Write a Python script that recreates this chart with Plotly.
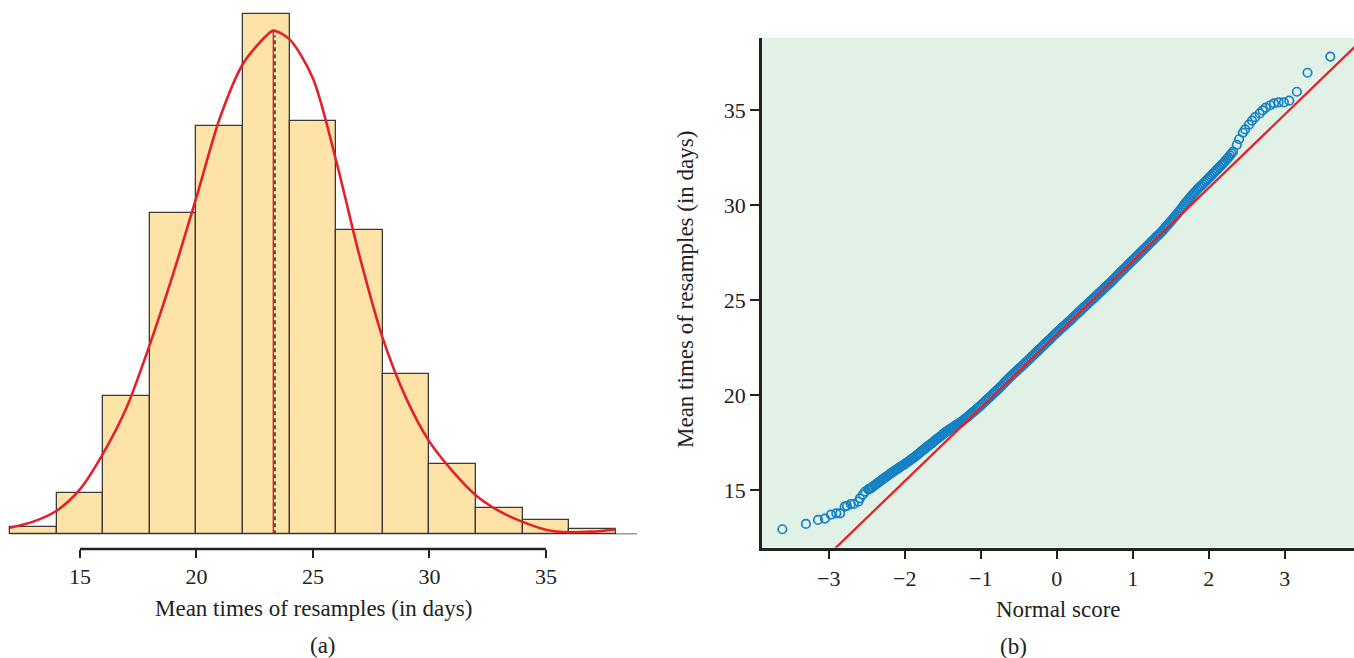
import plotly.graph_objects as go

# ---------------- data: (a) histogram ----------------
bin_edges = [12, 14, 16, 18, 20, 22, 24, 26, 28, 30, 32, 34, 36, 38]
bin_counts = [3, 17, 57, 132, 168, 214, 170, 125, 66, 29, 11, 6, 2]

curve_x = [12, 13, 14, 15, 16, 17, 18, 19, 20, 21, 22, 23, 23.3, 24, 25, 26, 27, 28,
           29, 30, 31, 32, 33, 34, 35, 36, 37, 38]
curve_y = [2.7, 5.2, 9.7, 18.5, 33.3, 52, 78, 107, 138.5, 171, 193.5, 205, 207.1, 203.5,
           187.5, 153.5, 114.5, 80.6, 56, 38.1, 25.9, 16.0, 9.5, 5.1, 1.9, 0.8, 1.1, 2.0]
curve_mean = 23.30
sample_mean = 23.37
hist_ticks = [15, 20, 25, 30, 35]

# ---------------- data: (b) normal quantile plot ----------------
qq_x = [
    -3.61, -3.30, -3.14, -3.05, -2.97, -2.90, -2.85, -2.79, -2.76, -2.71, -2.67,
    -2.61, -2.59, -2.55, -2.52,
    -2.48, -2.46, -2.44, -2.42, -2.40, -2.38, -2.36, -2.34, -2.32, -2.30,
    -2.28, -2.26, -2.24, -2.22, -2.20, -2.18, -2.16, -2.14, -2.12, -2.10,
    -2.08, -2.06, -2.04, -2.02, -2.00, -1.98, -1.96, -1.94, -1.92, -1.90,
    -1.88, -1.86, -1.84, -1.82, -1.80, -1.78, -1.76, -1.74, -1.72, -1.70,
    -1.68, -1.66, -1.64, -1.62, -1.60, -1.58, -1.56, -1.54, -1.52, -1.50,
    -1.48, -1.46, -1.44, -1.42, -1.40, -1.38, -1.36, -1.34, -1.32, -1.30,
    -1.28, -1.26, -1.24, -1.22, -1.20, -1.18, -1.16, -1.14, -1.12, -1.10,
    -1.08, -1.06, -1.04, -1.02, -1.00, -0.98, -0.96, -0.94, -0.92, -0.90,
    -0.88, -0.86, -0.84, -0.82, -0.80, -0.78, -0.76, -0.74, -0.72, -0.70,
    -0.68, -0.66, -0.64, -0.62, -0.60, -0.58, -0.56, -0.54, -0.52, -0.50,
    -0.48, -0.46, -0.44, -0.42, -0.40, -0.38, -0.36, -0.34, -0.32, -0.30,
    -0.28, -0.26, -0.24, -0.22, -0.20, -0.18, -0.16, -0.14, -0.12, -0.10,
    -0.08, -0.06, -0.04, -0.02, 0.00, 0.02, 0.04, 0.06, 0.08, 0.10,
    0.12, 0.14, 0.16, 0.18, 0.20, 0.22, 0.24, 0.26, 0.28, 0.30,
    0.32, 0.34, 0.36, 0.38, 0.40, 0.42, 0.44, 0.46, 0.48, 0.50,
    0.52, 0.54, 0.56, 0.58, 0.60, 0.62, 0.64, 0.66, 0.68, 0.70,
    0.72, 0.74, 0.76, 0.78, 0.80, 0.82, 0.84, 0.86, 0.88, 0.90,
    0.92, 0.94, 0.96, 0.98, 1.00, 1.02, 1.04, 1.06, 1.08, 1.10,
    1.12, 1.14, 1.16, 1.18, 1.20, 1.22, 1.24, 1.26, 1.28, 1.30,
    1.32, 1.34, 1.36, 1.38, 1.40, 1.42, 1.44, 1.46, 1.48, 1.50,
    1.52, 1.54, 1.56, 1.58, 1.60, 1.62, 1.64, 1.66, 1.68, 1.70,
    1.72, 1.74, 1.76, 1.78, 1.80, 1.82, 1.84, 1.86, 1.88, 1.90,
    1.92, 1.94, 1.96, 1.98, 2.00, 2.02, 2.04, 2.06, 2.08, 2.10,
    2.12, 2.14, 2.16, 2.18, 2.20, 2.22, 2.24, 2.26, 2.28, 2.30, 2.32,
    2.37, 2.40, 2.45, 2.48, 2.53, 2.57, 2.61, 2.67, 2.71, 2.75, 2.81, 2.86,
    2.92, 2.99, 3.06, 3.16, 3.30, 3.60]
qq_y = [
    12.93, 13.21, 13.42, 13.49, 13.70, 13.77, 13.77, 14.12, 14.16, 14.26, 14.26,
    14.38, 14.56, 14.75, 14.91,
    15.03, 15.07, 15.10, 15.17, 15.23, 15.29, 15.35, 15.41, 15.47, 15.53,
    15.59, 15.65, 15.70, 15.76, 15.82, 15.88, 15.93, 15.99, 16.05, 16.10,
    16.15, 16.21, 16.26, 16.31, 16.36, 16.42, 16.47, 16.53, 16.59, 16.65,
    16.70, 16.77, 16.83, 16.90, 16.96, 17.03, 17.10, 17.16, 17.22, 17.29,
    17.35, 17.41, 17.47, 17.54, 17.60, 17.67, 17.73, 17.79, 17.85, 17.92,
    17.98, 18.04, 18.10, 18.16, 18.21, 18.26, 18.31, 18.37, 18.42, 18.47,
    18.52, 18.57, 18.63, 18.70, 18.76, 18.82, 18.89, 18.96, 19.03, 19.10,
    19.16, 19.23, 19.30, 19.37, 19.44, 19.52, 19.59, 19.67, 19.74, 19.82,
    19.89, 19.97, 20.04, 20.12, 20.19, 20.27, 20.35, 20.42, 20.50, 20.59,
    20.67, 20.75, 20.83, 20.91, 20.99, 21.07, 21.15, 21.22, 21.29, 21.37,
    21.44, 21.51, 21.58, 21.66, 21.74, 21.81, 21.89, 21.97, 22.05, 22.12,
    22.20, 22.27, 22.35, 22.43, 22.51, 22.58, 22.66, 22.74, 22.82, 22.89,
    22.97, 23.05, 23.13, 23.20, 23.28, 23.35, 23.42, 23.50, 23.57, 23.64,
    23.71, 23.79, 23.86, 23.93, 24.01, 24.09, 24.17, 24.24, 24.32, 24.39,
    24.47, 24.54, 24.62, 24.69, 24.77, 24.84, 24.92, 24.99, 25.07, 25.14,
    25.22, 25.29, 25.37, 25.44, 25.52, 25.59, 25.67, 25.74, 25.82, 25.89,
    25.97, 26.05, 26.13, 26.21, 26.29, 26.37, 26.45, 26.53, 26.61, 26.69,
    26.77, 26.85, 26.93, 27.01, 27.09, 27.16, 27.24, 27.32, 27.40, 27.48,
    27.56, 27.64, 27.72, 27.79, 27.87, 27.96, 28.04, 28.11, 28.19, 28.28,
    28.36, 28.43, 28.51, 28.59, 28.68, 28.77, 28.86, 28.95, 29.04, 29.13,
    29.23, 29.32, 29.41, 29.51, 29.61, 29.71, 29.81, 29.92, 30.02, 30.12,
    30.22, 30.32, 30.41, 30.51, 30.60, 30.68, 30.77, 30.86, 30.94, 31.01,
    31.09, 31.17, 31.25, 31.33, 31.41, 31.49, 31.57, 31.66, 31.74, 31.82,
    31.90, 31.99, 32.07, 32.15, 32.23, 32.32, 32.42, 32.51, 32.61, 32.71, 32.81,
    33.16, 33.46, 33.81, 33.98, 34.23, 34.44, 34.62, 34.82, 34.98, 35.12, 35.25,
    35.35, 35.40, 35.40, 35.49, 35.96, 36.96, 37.81]
ref_intercept = 23.18
ref_slope = 3.86
ref_line_x = [-4.0, 4.0]
qq_xticks = [-3, -2, -1, 0, 1, 2, 3]
qq_yticks = [15, 20, 25, 30, 35]

# ---------------- styling ----------------
FONT = "Liberation Serif"
INK = "#222222"
RED = "#E4202A"
BLUE = "#1380C4"
BAR_FILL = "#FEE3A8"
QQ_BG = "#E1F1E6"
W, H = 1354, 658


def px_x(p):
    return p / W


def px_y(p):
    return 1 - p / H


centers = [(a + b) / 2 for a, b in zip(bin_edges[:-1], bin_edges[1:])]
widths = [b - a for a, b in zip(bin_edges[:-1], bin_edges[1:])]
ref_line_y = [ref_intercept + ref_slope * v for v in ref_line_x]

fig = go.Figure()

fig.add_trace(go.Bar(
    x=centers, y=bin_counts, width=widths,
    marker=dict(color=BAR_FILL, line=dict(color="#3a3a3a", width=1.3)),
    xaxis="x", yaxis="y", showlegend=False, hoverinfo="skip"))

fig.add_trace(go.Scatter(
    x=[sample_mean, sample_mean], y=[0, max(curve_y) - 2], mode="lines",
    line=dict(color="#404040", width=1.7, dash="4px,3px"),
    xaxis="x", yaxis="y", showlegend=False, hoverinfo="skip"))

fig.add_trace(go.Scatter(
    x=[curve_mean, curve_mean], y=[0, max(curve_y)], mode="lines",
    line=dict(color=RED, width=1.4),
    xaxis="x", yaxis="y", showlegend=False, hoverinfo="skip"))

fig.add_trace(go.Scatter(
    x=curve_x, y=curve_y, mode="lines",
    line=dict(color=RED, width=2.6, shape="spline", smoothing=0.8),
    xaxis="x", yaxis="y", showlegend=False, hoverinfo="skip"))

fig.add_trace(go.Scatter(
    x=qq_x, y=qq_y, mode="markers",
    marker=dict(symbol="circle-open", size=8.5, color=BLUE, line=dict(width=1.7, color=BLUE)),
    xaxis="x2", yaxis="y2", showlegend=False, hoverinfo="skip"))

fig.add_trace(go.Scatter(
    x=ref_line_x, y=ref_line_y, mode="lines",
    line=dict(color=RED, width=2.3),
    xaxis="x2", yaxis="y2", showlegend=False, hoverinfo="skip"))

hist_axis_pos = px_y(549)

fig.update_layout(
    width=W, height=H,
    margin=dict(l=0, r=0, t=0, b=0),
    paper_bgcolor="white", plot_bgcolor="rgba(0,0,0,0)",
    font=dict(family=FONT, size=22, color=INK),
    bargap=0,
    xaxis=dict(
        domain=[px_x(8), px_x(637)], range=[11.914, 38.91],
        anchor="free", position=hist_axis_pos,
        showline=False, showgrid=False, zeroline=False,
        ticks="outside", ticklen=8, tickwidth=2, tickcolor=INK,
        tickvals=hist_ticks, ticktext=[str(t) for t in hist_ticks],
        tickfont=dict(family=FONT, size=22, color=INK),
    ),
    yaxis=dict(
        domain=[px_y(534.3), px_y(10)], range=[0, 215.6],
        visible=False, fixedrange=True,
    ),
    xaxis2=dict(
        domain=[px_x(762), 1.0], range=[-3.878, 3.912],
        anchor="y2", showline=True, linewidth=2.6, linecolor=INK,
        showgrid=False, zeroline=False,
        ticks="outside", ticklen=9, tickwidth=2, tickcolor=INK,
        tickvals=qq_xticks,
        tickfont=dict(family=FONT, size=22, color=INK),
    ),
    yaxis2=dict(
        domain=[px_y(547.5), px_y(38)], range=[11.97, 38.79],
        anchor="x2", showline=True, linewidth=2.6, linecolor=INK,
        showgrid=False, zeroline=False,
        ticks="outside", ticklen=9, tickwidth=2, tickcolor=INK,
        tickvals=qq_yticks,
        tickfont=dict(family=FONT, size=22, color=INK),
    ),
    shapes=[
        dict(type="rect", xref="x2 domain", yref="y2 domain", x0=0, x1=1, y0=0, y1=1,
             fillcolor=QQ_BG, line=dict(width=0), layer="below"),
        dict(type="line", xref="x", yref="paper", x0=hist_ticks[0], x1=hist_ticks[-1],
             y0=hist_axis_pos, y1=hist_axis_pos, line=dict(color=INK, width=2.6)),
        dict(type="line", xref="x", yref="y", x0=bin_edges[0], x1=38.91, y0=0, y1=0,
             line=dict(color="#333333", width=1.5)),
    ],
    annotations=[
        dict(text="Mean times of resamples (in days)", xref="paper", yref="paper",
             x=px_x(313), y=px_y(608), showarrow=False, xanchor="center", yanchor="middle",
             font=dict(family=FONT, size=23, color=INK)),
        dict(text="(a)", xref="paper", yref="paper",
             x=px_x(323), y=px_y(645), showarrow=False, xanchor="center", yanchor="middle",
             font=dict(family=FONT, size=23, color=INK)),
        dict(text="Normal score", xref="paper", yref="paper",
             x=px_x(1058), y=px_y(609), showarrow=False, xanchor="center", yanchor="middle",
             font=dict(family=FONT, size=23, color=INK)),
        dict(text="(b)", xref="paper", yref="paper",
             x=px_x(1013), y=px_y(646), showarrow=False, xanchor="center", yanchor="middle",
             font=dict(family=FONT, size=23, color=INK)),
        dict(text="Mean times of resamples (in days)", xref="paper", yref="paper",
             x=px_x(686), y=px_y(290), showarrow=False, textangle=-90,
             xanchor="center", yanchor="middle",
             font=dict(family=FONT, size=23, color=INK)),
    ],
)

fig.write_html(
    "out.html",
    config={"displayModeBar": False},
    post_script="document.body.style.margin='0px'; document.body.style.overflow='hidden';",
)
